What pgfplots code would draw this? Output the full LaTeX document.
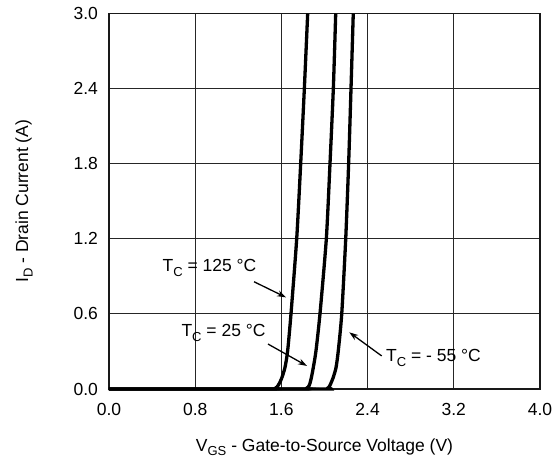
\documentclass[border=0pt]{standalone}
\usepackage{fontspec}
\setmainfont{Liberation Sans}
\usepackage{pgfplots}
\pgfplotsset{compat=1.18}
\usetikzlibrary{arrows.meta}
\newcommand{\sub}[1]{\raisebox{-0.25em}{\fontsize{13}{15}\selectfont #1}}
\begin{document}
\fontsize{17.5}{21}\selectfont
\begin{tikzpicture}
\begin{axis}[
  scale only axis,
  width=431pt, height=375.5pt,
  xmin=0, xmax=4, ymin=0, ymax=3,
  xtick={0,0.8,1.6,2.4,3.2,4.0},
  ytick={0,0.6,1.2,1.8,2.4,3.0},
  xticklabels={0.0,0.8,1.6,2.4,3.2,4.0},
  yticklabels={0.0,0.6,1.2,1.8,2.4,3.0},
  /pgf/number format/assume math mode=true,
  major tick length=0pt,
  grid=major,
  major grid style={line width=1pt, color=black!85},
  axis line style={line width=1.8pt, black!90},
  tick label style={font=\fontsize{17.5}{21}\selectfont},
  xticklabel style={yshift=-8pt},
  yticklabel style={xshift=-5pt},
  xlabel={V\sub{GS} - Gate-to-Source Voltage (V)},
  ylabel={I\sub{D} - Drain Current (A)},
  label style={font=\fontsize{17.5}{21}\selectfont},
  xlabel style={at={(rel axis cs:0.5,0)}, anchor=center, yshift=-58pt},
  ylabel style={at={(rel axis cs:0,0.5)}, anchor=center, rotate=0, yshift=85pt},
  clip=false,
]
\addplot[black, line width=3.3pt, smooth, tension=0.4] coordinates {
 (0,0) (1.45,0) (1.54,0.004) (1.571,0.03) (1.60,0.08) (1.633,0.171) (1.658,0.305) (1.689,0.6) (1.742,1.2) (1.779,1.8) (1.813,2.4) (1.844,3.0)};
\addplot[black, line width=3.3pt, smooth, tension=0.4] coordinates {
 (0,0) (1.74,0) (1.83,0.004) (1.859,0.03) (1.878,0.09) (1.896,0.171) (1.921,0.305) (1.958,0.6) (2.017,1.2) (2.051,1.8) (2.082,2.4) (2.104,3.0)};
\addplot[black, line width=3.3pt, smooth, tension=0.4] coordinates {
 (0,0) (1.94,0) (2.025,0.004) (2.051,0.03) (2.08,0.09) (2.107,0.171) (2.128,0.305) (2.160,0.6) (2.197,1.2) (2.224,1.8) (2.246,2.4) (2.267,3.0)};
\node at (axis cs:0.933,0.966) {T\sub{C} = 125 °C};
\node at (axis cs:1.063,0.447) {T\sub{C} = 25 °C};
\node at (axis cs:3.012,0.248) {T\sub{C} = - 55 °C};
\draw[line width=1.3pt, -{Stealth[length=9pt,width=6pt]}] (axis cs:1.346,0.857) -- (axis cs:1.643,0.732);
\draw[line width=1.3pt, -{Stealth[length=9pt,width=6pt]}] (axis cs:1.476,0.359) -- (axis cs:1.838,0.184);
\draw[line width=1.3pt, -{Stealth[length=9pt,width=6pt]}] (axis cs:2.531,0.264) -- (axis cs:2.230,0.453);
\end{axis}
\path (current axis.south west) ++(-109pt,-77pt) coordinate (bl);
\path (current axis.north east) ++(18pt,13.5pt) coordinate (tr);
\path (bl) rectangle (tr);
\end{tikzpicture}
\end{document}
